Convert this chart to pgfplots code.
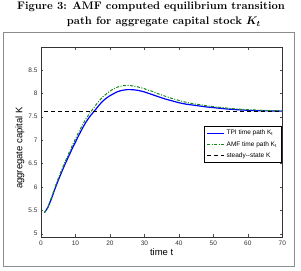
\documentclass[border=0pt]{standalone}
\usepackage{pgfplots}
\pgfplotsset{compat=1.18}
\usepackage{fontspec}
\newfontfamily\arial{Liberation Sans}
\definecolor{mgreen}{RGB}{20,140,20}
\begin{document}
\begin{tikzpicture}
\useasboundingbox (0,0) rectangle (301pt,271pt);
\draw[black!45, line width=0.8pt] (3.3pt,5pt) rectangle (294.3pt,238.7pt);
\node[anchor=base, inner sep=0, font=\fontsize{10.95}{13}\selectfont\bfseries] at (151pt,261.5pt) {Figure 3: AMF computed equilibrium transition};
\node[anchor=base west, inner sep=0, font=\fontsize{10.95}{13}\selectfont\bfseries\boldmath] at (66.7pt,246pt) {path for aggregate capital stock $K_t$};
\begin{axis}[
  at={(41pt,34pt)}, anchor=south west,
  scale only axis, width=241.3pt, height=189.5pt,
  xmin=0, xmax=70, ymin=4.93, ymax=8.98,
  xtick={0,10,...,70}, ytick={5,5.5,...,8.5},
  tick align=inside, tick pos=both,
  major tick length=2.5pt,
  tick style={black!70, line width=0.4pt},
  axis line style={black!80, line width=0.5pt},
  ticklabel style={font=\arial\fontsize{6.5}{7}\selectfont, text=black!80},
  /pgf/number format/assume math mode=true,
  yticklabel style={/pgf/number format/fixed, /pgf/number format/precision=1},
  xlabel={time t}, ylabel={aggregate capital K},
  label style={font=\arial\fontsize{9.5}{11}\selectfont},
  xlabel style={at={(axis description cs:0.5,0)}, anchor=base, yshift=-19pt},
  ylabel style={at={(axis description cs:-0.087,0.47)}, anchor=center},
  legend style={font=\arial\fontsize{6.5}{7}\selectfont, at={(0.995,0.584)}, anchor=north east,
    draw=black, line width=0.5pt, fill=white, inner xsep=2pt, inner ysep=1.5pt, row sep=1pt,
    cells={anchor=west}},
  legend image post style={line width=1pt},
]
\addplot[blue, line width=1.2pt] coordinates {
(1,5.45)(2,5.56)(3,5.74)(4,5.95)(5,6.14)(6,6.32)(7,6.49)(8,6.65)(9,6.81)(10,6.96)
(11,7.11)(12,7.25)(13,7.38)(14,7.49)(15,7.58)(16,7.67)(17,7.76)(18,7.84)(19,7.90)(20,7.95)
(21,7.99)(22,8.03)(23,8.055)(24,8.07)(25,8.08)(26,8.08)(27,8.075)(28,8.065)(29,8.05)(30,8.03)
(31,8.005)(32,7.98)(33,7.955)(34,7.93)(35,7.905)(36,7.88)(38,7.84)(40,7.80)(42,7.77)(44,7.75)
(46,7.73)(48,7.71)(50,7.695)(52,7.68)(54,7.665)(56,7.655)(58,7.645)(60,7.638)(62,7.632)(65,7.626)(70,7.62)
};
\addlegendentry{TPI time path K\textsubscript{t}}
\addplot[mgreen, line width=1pt, dash pattern=on 3pt off 1.5pt on 1pt off 1.5pt] coordinates {
(1,5.45)(2,5.57)(3,5.77)(4,5.98)(5,6.18)(6,6.37)(7,6.54)(8,6.71)(9,6.87)(10,7.03)
(11,7.18)(12,7.32)(13,7.45)(14,7.56)(15,7.66)(16,7.76)(17,7.85)(18,7.93)(19,7.99)(20,8.05)
(21,8.09)(22,8.13)(23,8.15)(24,8.165)(25,8.17)(26,8.165)(27,8.155)(28,8.14)(29,8.12)(30,8.10)
(31,8.07)(32,8.05)(33,8.02)(34,7.99)(35,7.965)(36,7.94)(38,7.89)(40,7.85)(42,7.81)(44,7.78)
(46,7.76)(48,7.735)(50,7.715)(52,7.70)(54,7.685)(56,7.67)(58,7.66)(60,7.65)(62,7.645)(65,7.635)(70,7.625)
};
\addlegendentry{AMF time path K\textsubscript{t}}
\addplot[black, line width=1pt, dash pattern=on 4pt off 3pt] coordinates {(1,7.62)(70,7.62)};
\addlegendentry{steady--state K}
\end{axis}
\end{tikzpicture}
\end{document}
